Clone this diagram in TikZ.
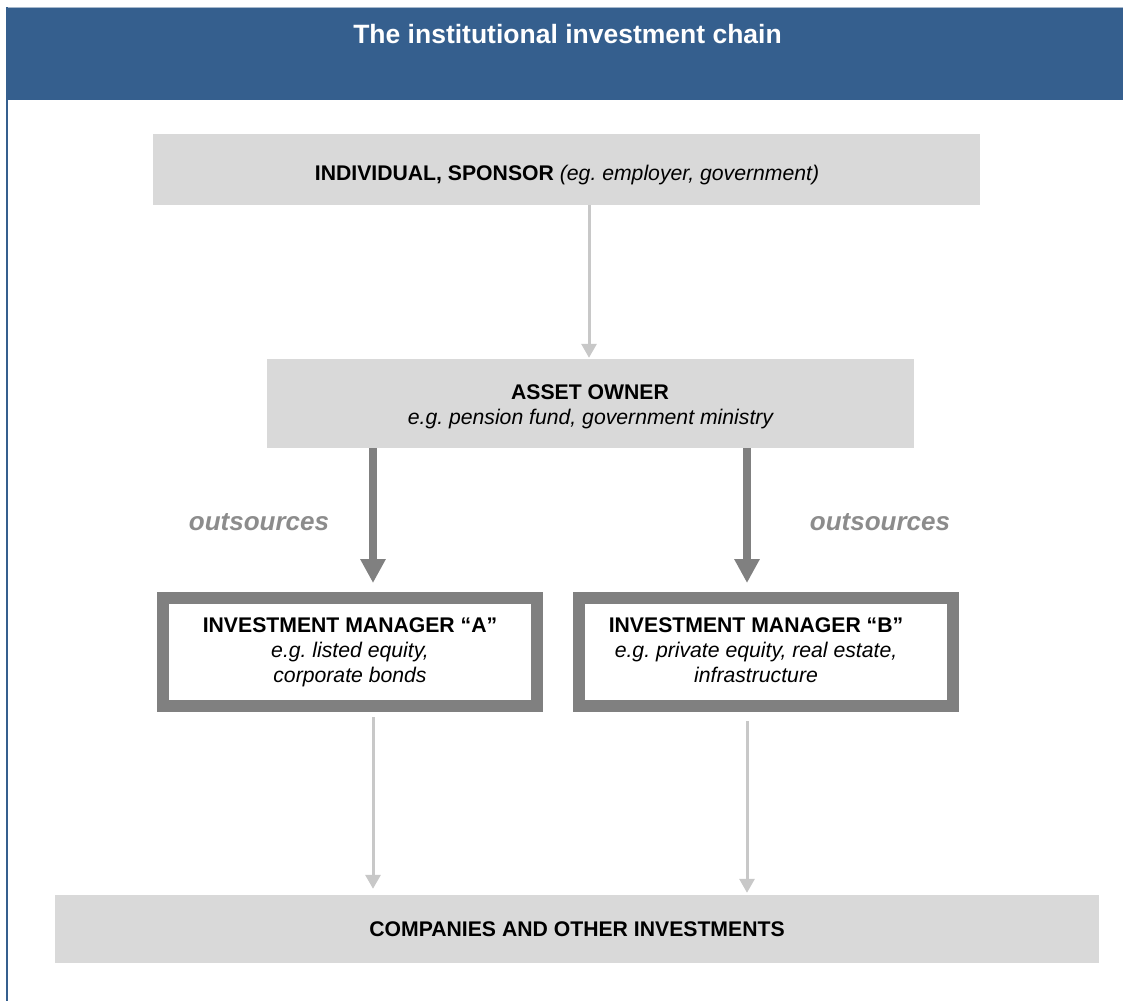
\documentclass[tikz,border=0pt]{standalone}
\usepackage{fontspec}
\setmainfont{Liberation Sans}
\usetikzlibrary{arrows.meta}
\definecolor{hdrblue}{RGB}{53,95,142}
\definecolor{topline}{RGB}{166,184,204}
\definecolor{boxgray}{RGB}{217,217,217}
\definecolor{lightarrow}{RGB}{200,200,200}
\definecolor{darkarrow}{RGB}{128,128,128}
\definecolor{outsgray}{RGB}{140,140,140}
\tikzset{
  graybox/.style={rectangle, fill=boxgray, draw=none, inner sep=0pt},
  mgrbox/.style={rectangle, draw=darkarrow, line width=12pt, fill=white, inner sep=0pt},
  linetext/.style={anchor=base, inner sep=0pt, font=\fontsize{21.2}{25}\selectfont},
  lightarr/.style={draw=lightarrow, line width=3pt, -{Triangle[width=15pt,length=14pt]}},
  darkarr/.style={draw=darkarrow, line width=8pt, -{Triangle[width=24pt,length=24pt]}},
  outslabel/.style={text=outsgray, font=\fontsize{26}{30}\selectfont\bfseries\itshape, inner sep=0pt},
}
\begin{document}
\frenchspacing
\begin{tikzpicture}[x=1pt,y=-1pt]
\useasboundingbox (0,0) rectangle (1123,1001);
% frame
\fill[hdrblue] (6,7.5) rectangle (1123,100);
\draw[topline, line width=1pt] (6,7) -- (1123,7);
\draw[hdrblue, line width=2pt] (7,7) -- (7,1001);
\node[text=white, font=\fontsize{26.5}{30}\selectfont\bfseries, inner sep=0pt] (title) at (567.5,34) {The institutional investment chain};
% boxes
\node[graybox, minimum width=827pt, minimum height=71pt] (sponsor) at (566.5,169.5) {};
\node[linetext] (sponsortxt) at (567,180.5) {\textbf{INDIVIDUAL, SPONSOR} \textit{(eg. employer, government)}};
\node[graybox, minimum width=647pt, minimum height=89pt] (owner) at (590.5,403.5) {};
\node[linetext] (owner1) at (590,399) {\textbf{ASSET OWNER}};
\node[linetext] (owner2) at (591,424) {\textit{e.g. pension fund, government ministry}};
\node[mgrbox, minimum width=374pt, minimum height=108pt] (mA) at (350,652) {};
\node[linetext] (mA1) at (350,632) {\textbf{INVESTMENT MANAGER “A”}};
\node[linetext] (mA2) at (350,657) {\textit{e.g. listed equity,}};
\node[linetext] (mA3) at (350,682) {\textit{corporate bonds}};
\node[mgrbox, minimum width=374pt, minimum height=108pt] (mB) at (766,652) {};
\node[linetext] (mB1) at (756,632) {\textbf{INVESTMENT MANAGER “B”}};
\node[linetext] (mB2) at (756,657) {\textit{e.g. private equity, real estate,}};
\node[linetext] (mB3) at (756,682) {\textit{infrastructure}};
\node[graybox, minimum width=1044pt, minimum height=68pt] (comp) at (577,929) {};
\node[linetext] (comptxt) at (577,936.5) {\textbf{COMPANIES AND OTHER INVESTMENTS}};
% arrow x positions
\coordinate (xs) at (589,0);
\coordinate (xa) at (373,0);
\coordinate (xb) at (747,0);
\draw[lightarr, shorten >=1pt] (sponsor.south -| xs) -- (owner.north -| xs);
\draw[darkarr, shorten >=9pt] (owner.south -| xa) -- (mA.north -| xa);
\draw[darkarr, shorten >=9pt] (owner.south -| xb) -- (mB.north -| xb);
\draw[lightarr, shorten <=5pt, shorten >=6pt] (mA.south -| xa) -- (comp.north -| xa);
\draw[lightarr, shorten <=9pt, shorten >=2pt] (mB.south -| xb) -- (comp.north -| xb);
% labels
\node[outslabel] (outsA) at (259,522) {outsources};
\node[outslabel] (outsB) at (880,522) {outsources};
\end{tikzpicture}
\end{document}
